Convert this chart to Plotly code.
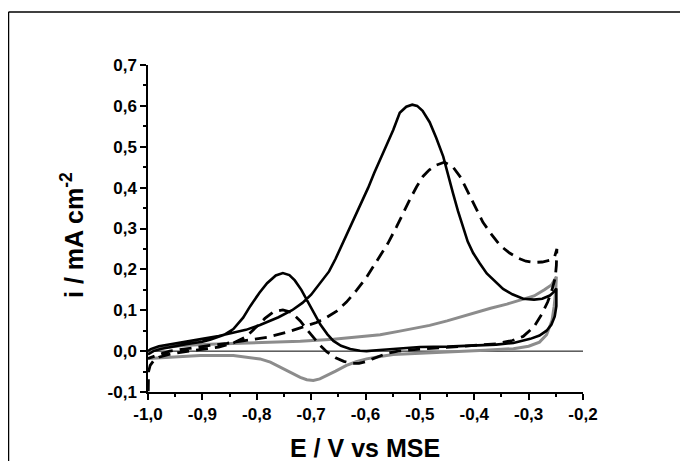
import plotly.graph_objects as go

# ---------------- data ----------------
# Solid black CV (forward + reverse scan)
solid_x = [-1.000, -0.990, -0.975, -0.950, -0.930, -0.900, -0.886, -0.860, -0.843, -0.825,
           -0.812, -0.795, -0.781, -0.765, -0.752, -0.740, -0.730, -0.718, -0.708, -0.695,
           -0.683, -0.670, -0.659, -0.645, -0.628, -0.610, -0.598, -0.580, -0.561, -0.537,
           -0.500, -0.450, -0.400, -0.360, -0.328, -0.310, -0.297, -0.280, -0.267, -0.258,
           -0.252, -0.249, -0.248,
           -0.249, -0.255, -0.261, -0.275, -0.290, -0.310, -0.330, -0.347, -0.362, -0.377,
           -0.390, -0.402, -0.412, -0.420, -0.430, -0.439, -0.448, -0.457, -0.470, -0.482,
           -0.495, -0.505, -0.514, -0.525, -0.537, -0.549, -0.561, -0.573, -0.584, -0.595,
           -0.607, -0.619, -0.631, -0.643, -0.655, -0.667, -0.685, -0.700, -0.716, -0.735,
           -0.760, -0.794, -0.820, -0.843, -0.870, -0.900, -0.934, -0.960, -0.980, -0.995,
           -1.000]
solid_y = [-0.008, 0.000, 0.006, 0.013, 0.017, 0.023, 0.028, 0.040, 0.054, 0.082,
           0.110, 0.143, 0.166, 0.185, 0.191, 0.186, 0.173, 0.150, 0.126, 0.094,
           0.065, 0.041, 0.025, 0.013, 0.005, 0.001, 0.000, 0.002, 0.004, 0.007,
           0.010, 0.011, 0.013, 0.016, 0.020, 0.025, 0.030, 0.038, 0.050, 0.065,
           0.085, 0.110, 0.150,
           0.153, 0.143, 0.136, 0.128, 0.126, 0.128, 0.139, 0.152, 0.170, 0.190,
           0.215, 0.240, 0.268, 0.300, 0.343, 0.386, 0.432, 0.476, 0.522, 0.560,
           0.588, 0.600, 0.603, 0.598, 0.583, 0.541, 0.505, 0.470, 0.436, 0.400,
           0.365, 0.330, 0.295, 0.260, 0.226, 0.195, 0.163, 0.138, 0.118, 0.100,
           0.083, 0.064, 0.052, 0.045, 0.037, 0.030, 0.022, 0.017, 0.012, 0.005,
           0.000]

# Dashed black CV
dash_x = [-0.9995, -0.999, -0.996, -0.990, -0.980, -0.965, -0.940, -0.904, -0.870, -0.843,
          -0.820, -0.800, -0.785, -0.769, -0.752, -0.737, -0.720, -0.708, -0.696, -0.684,
          -0.671, -0.655, -0.640, -0.625, -0.612, -0.598, -0.587, -0.573, -0.562, -0.540,
          -0.500, -0.451, -0.400, -0.359, -0.330, -0.310, -0.290, -0.276, -0.265, -0.257,
          -0.251, -0.249, -0.248,
          -0.252, -0.262, -0.275, -0.290, -0.305, -0.320, -0.335, -0.352, -0.368, -0.384,
          -0.398, -0.411, -0.425, -0.440, -0.455, -0.470, -0.483, -0.494, -0.506, -0.518,
          -0.530, -0.543, -0.559, -0.580, -0.598, -0.617, -0.635, -0.653, -0.671, -0.690,
          -0.714, -0.745, -0.780, -0.818, -0.855, -0.886, -0.934, -0.960, -0.977, -0.992,
          -1.000]
dash_y = [-0.098, -0.050, -0.035, -0.024, -0.015, -0.009, -0.003, 0.003, 0.010, 0.020,
          0.035, 0.060, 0.080, 0.096, 0.101, 0.095, 0.074, 0.053, 0.034, 0.015,
          -0.002, -0.016, -0.025, -0.030, -0.030, -0.025, -0.019, -0.011, -0.006, 0.000,
          0.005, 0.009, 0.013, 0.018, 0.026, 0.036, 0.060, 0.090, 0.120, 0.150,
          0.180, 0.210, 0.250,
          0.232, 0.222, 0.218, 0.217, 0.220, 0.228, 0.240, 0.258, 0.285, 0.315,
          0.352, 0.390, 0.425, 0.452, 0.462, 0.455, 0.443, 0.428, 0.402, 0.372,
          0.338, 0.304, 0.263, 0.220, 0.181, 0.148, 0.120, 0.098, 0.083, 0.070,
          0.059, 0.046, 0.034, 0.026, 0.019, 0.014, 0.006, 0.000, -0.007, -0.013,
          -0.018]

# Grey CV
grey_x = [-1.000, -0.990, -0.970, -0.934, -0.900, -0.843, -0.780, -0.720, -0.659, -0.598,
          -0.573, -0.537, -0.506, -0.482, -0.450, -0.425, -0.400, -0.370, -0.340, -0.310,
          -0.290, -0.271, -0.258, -0.249,
          -0.250, -0.253, -0.257, -0.267, -0.280, -0.300, -0.328, -0.380, -0.450, -0.500,
          -0.549, -0.573, -0.598, -0.617, -0.635, -0.655, -0.671, -0.684, -0.696, -0.708,
          -0.720, -0.740, -0.757, -0.775, -0.794, -0.820, -0.843, -0.904, -0.965, -0.990,
          -1.000]
grey_y = [-0.005, 0.003, 0.009, 0.014, 0.016, 0.018, 0.021, 0.024, 0.029, 0.037,
          0.040, 0.049, 0.056, 0.063, 0.074, 0.084, 0.094, 0.105, 0.115, 0.127,
          0.135, 0.150, 0.162, 0.182,
          0.150, 0.110, 0.075, 0.040, 0.022, 0.012, 0.006, 0.002, -0.002, -0.004,
          -0.008, -0.013, -0.019, -0.026, -0.035, -0.049, -0.060, -0.068, -0.072, -0.070,
          -0.064, -0.051, -0.039, -0.027, -0.019, -0.014, -0.011, -0.011, -0.015, -0.017,
          -0.018]

# Zero reference line
zero_x = [-1.0, -0.2]
zero_y = [0.0, 0.0]

# Tick labels
x_ticks = [-1.0, -0.9, -0.8, -0.7, -0.6, -0.5, -0.4, -0.3, -0.2]
x_ticklabels = ["-1,0", "-0,9", "-0,8", "-0,7", "-0,6", "-0,5", "-0,4", "-0,3", "-0,2"]
y_ticks = [-0.1, 0.0, 0.1, 0.2, 0.3, 0.4, 0.5, 0.6, 0.7]
y_ticklabels = ["-0,1", "0,0", "0,1", "0,2", "0,3", "0,4", "0,5", "0,6", "0,7"]

x_title = "E / V vs MSE"
y_title = "i / mA cm<sup>-2</sup>"

# ---------------- figure ----------------
FONT = "Liberation Sans, Arial, sans-serif"
fig = go.Figure()
fig.add_trace(go.Scatter(x=zero_x, y=zero_y, mode="lines",
                         line=dict(color="black", width=1), hoverinfo="skip"))
fig.add_trace(go.Scatter(x=grey_x, y=grey_y, mode="lines",
                         line=dict(color="rgb(140,140,140)", width=3)))
fig.add_trace(go.Scatter(x=dash_x, y=dash_y, mode="lines",
                         line=dict(color="black", width=2.8, dash="12px,7px")))
fig.add_trace(go.Scatter(x=solid_x, y=solid_y, mode="lines",
                         line=dict(color="black", width=2.6)))

# page body has an 8px margin: figure sits at (8, 8) in the page
OFF = 8
W, H = 680, 453
L, R, T, B = 140, 105, 57, 69
pw, ph = W - L - R, H - T - B

def px(x):
    return (x - OFF - L) / pw

def py(y):
    return (H - B - (y - OFF)) / ph

axis_common = dict(showline=True, linecolor="black", linewidth=1.5, ticks="outside",
                   ticklen=6, tickwidth=1.5, tickcolor="black", showgrid=False,
                   zeroline=False, mirror=False,
                   tickfont=dict(family=FONT, size=17, color="black", weight="bold"))

fig.update_xaxes(range=[-1.0, -0.2], tickvals=x_ticks, ticktext=x_ticklabels,
                 minor=dict(ticks="outside", ticklen=3.5, tickwidth=1.5, tickcolor="black",
                            tick0=-1.0, dtick=0.05),
                 **axis_common)
fig.update_yaxes(range=[-0.1, 0.7], tickvals=y_ticks, ticktext=y_ticklabels,
                 minor=dict(ticks="outside", ticklen=3.5, tickwidth=1.5, tickcolor="black",
                            tick0=0.0, dtick=0.05),
                 **axis_common)

fig.add_annotation(text=x_title, xref="paper", yref="paper", x=px(365), y=py(448),
                   xanchor="center", yanchor="middle", showarrow=False,
                   font=dict(family=FONT, size=25, color="black", weight="bold"))
fig.add_annotation(text=y_title, xref="paper", yref="paper", x=px(72), y=py(235),
                   xanchor="center", yanchor="middle", showarrow=False, textangle=-90,
                   font=dict(family=FONT, size=25, color="black", weight="bold"))

# outer frame (top and left edges visible)
fig.add_shape(type="line", xref="paper", yref="paper", x0=px(8.5), y0=py(12), x1=px(700), y1=py(12),
              line=dict(color="black", width=1.5))
fig.add_shape(type="line", xref="paper", yref="paper", x0=px(8.5), y0=py(12), x1=px(8.5), y1=py(475),
              line=dict(color="black", width=1.5))

fig.update_layout(width=W, height=H, autosize=False,
                  margin=dict(l=L, r=R, t=T, b=B, pad=0),
                  paper_bgcolor="white", plot_bgcolor="white",
                  showlegend=False)

fig.write_html("out.html")
